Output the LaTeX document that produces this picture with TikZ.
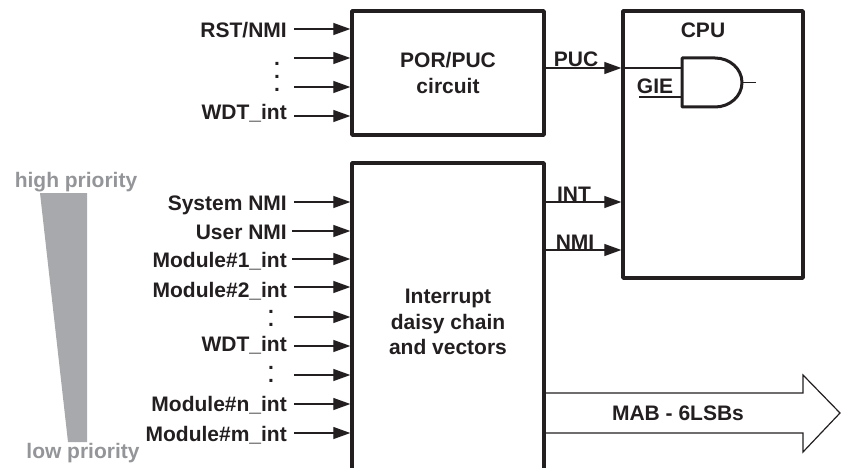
\documentclass[tikz,border=0pt]{standalone}
\usepackage{fontspec}
\setmainfont{Liberation Sans}
\usetikzlibrary{arrows.meta}
\definecolor{inkblack}{HTML}{231F20}
\definecolor{wedgegray}{HTML}{A7A9AC}
\definecolor{prioritygray}{HTML}{939598}
\tikzset{
  blockbox/.style={draw=inkblack,line width=3.4pt,line join=round,align=center,
    font=\bfseries\fontsize{21}{25.5}\selectfont,text=inkblack},
  siglabel/.style={anchor=base east,inner sep=0pt,font=\bfseries\fontsize{21}{24}\selectfont,text=inkblack},
  buslabel/.style={anchor=base,inner sep=0pt,font=\bfseries\fontsize{21}{24}\selectfont,text=inkblack},
  prilabel/.style={anchor=base,inner sep=0pt,font=\bfseries\fontsize{21}{24}\selectfont,text=prioritygray},
  dotlabel/.style={inner sep=0pt,align=center,font=\bfseries\fontsize{21}{13}\selectfont,text=inkblack},
  sigline/.style={draw=inkblack,line width=1.2pt,-{Triangle[length=17pt,width=12pt]}},
  thinline/.style={draw=inkblack,line width=1.2pt},
}
\begin{document}
\begin{tikzpicture}[x=1pt,y=-1pt]
  \pgfmathsetmacro\lblx{287}   % right edge of the input labels
  \pgfmathsetmacro\inx{294}    % start of the input arrows
  \clip (0,0) rectangle (841,468);

% blocks
  \node[blockbox,minimum width=192pt,minimum height=124pt] (por) at (448,73) {POR/PUC\\circuit};
  \node[blockbox,minimum width=192pt,minimum height=318pt] (intc) at (448,322) {Interrupt\\daisy chain\\and vectors};
  \node[blockbox,minimum width=180pt,minimum height=267pt] (cpu) at (713,144.5) {};
  \node[buslabel] (cpulbl) at (703,38) {CPU};

% priority wedge
  \fill[wedgegray] (40,193) -- (87,193) -- (87,442) -- (68,442) -- cycle;
  \node[prilabel] (high) at (76,188) {high priority};
  \node[prilabel] (low) at (83,458) {low priority};

% reset inputs
  \node[siglabel] (rst) at (\lblx,38) {RST/NMI};
  \node[dotlabel] (pordots) at (277,77) {.\\.\\.};
  \node[siglabel] (wdtp) at (\lblx,120) {WDT\_int};
  \coordinate (a1) at (\inx,29);
  \coordinate (a2) at (\inx,58);
  \coordinate (a3) at (\inx,87);
  \coordinate (a4) at (\inx,116);
  \draw[sigline] (a1) -- (a1 -| por.west);
  \draw[sigline] (a2) -- (a2 -| por.west);
  \draw[sigline] (a3) -- (a3 -| por.west);
  \draw[sigline] (a4) -- (a4 -| por.west);

% interrupt inputs
  \node[siglabel] (sysnmi) at (\lblx,211) {System NMI};
  \node[siglabel] (usrnmi) at (\lblx,239) {User NMI};
  \node[siglabel] (mod1) at (\lblx,267) {Module\#1\_int};
  \node[siglabel] (mod2) at (\lblx,297) {Module\#2\_int};
  \node[dotlabel] (dots1) at (271,318) {.\\.};
  \node[siglabel] (wdti) at (\lblx,351) {WDT\_int};
  \node[dotlabel] (dots2) at (271,374) {.\\.};
  \node[siglabel] (modn) at (\lblx,411) {Module\#n\_int};
  \node[siglabel] (modm) at (\lblx,441) {Module\#m\_int};
  \coordinate (b1) at (\inx,202);
  \coordinate (b2) at (292,231);
  \coordinate (b3) at (292,259);
  \coordinate (b4) at (\inx,287);
  \coordinate (b5) at (\inx,317);
  \coordinate (b6) at (\inx,346);
  \coordinate (b7) at (\inx,375);
  \coordinate (b8) at (\inx,404);
  \coordinate (b9) at (\inx,433);
  \draw[sigline] (b1) -- (b1 -| intc.west);
  \draw[sigline] (b2) -- (b2 -| intc.west);
  \draw[sigline] (b3) -- (b3 -| intc.west);
  \draw[sigline] (b4) -- (b4 -| intc.west);
  \draw[sigline] (b5) -- (b5 -| intc.west);
  \draw[sigline] (b6) -- (b6 -| intc.west);
  \draw[sigline] (b7) -- (b7 -| intc.west);
  \draw[sigline] (b8) -- (b8 -| intc.west);
  \draw[sigline] (b9) -- (b9 -| intc.west);

% outputs to the cpu
  \coordinate (puc) at (por.east |- 0,68);
  \coordinate (int) at (intc.east |- 0,202);
  \coordinate (nmi) at (intc.east |- 0,250);
  \draw[sigline] (puc) -- (puc -| cpu.west);
  \draw[sigline] (int) -- (int -| cpu.west);
  \draw[sigline] (nmi) -- (nmi -| cpu.west);
  \node[buslabel] (puclbl) at (576,67) {PUC};
  \node[buslabel] (intlbl) at (574,201) {INT};
  \node[buslabel] (nmilbl) at (575,249) {NMI};

% gate inside the cpu
  \coordinate (g1) at (682,68);
  \coordinate (g2) at (682,97);
  \coordinate (gie) at (639,97);
  \coordinate (gout) at (742,82.5);
  \coordinate (gend) at (756,82.5);
  \draw[thinline] (puc -| cpu.west) -- (g1);
  \draw[thinline] (gie) -- (g2);
  \draw[thinline] (gout) -- (gend);
  \draw[draw=inkblack,line width=3pt,line join=round] (682,58) -- (715,58) arc (-90:90:27 and 24.5) -- (682,107) -- cycle;
  \node[buslabel] (gielbl) at (655,94) {GIE};

% address bus
  \draw[thinline] (intc.east |- 0,393) -- (803,393) -- (803,375) -- (840,413) -- (803,452) -- (803,433) -- (intc.east |- 0,433);
  \node[buslabel] (mab) at (678,420) {MAB - 6LSBs};
\end{tikzpicture}
\end{document}
